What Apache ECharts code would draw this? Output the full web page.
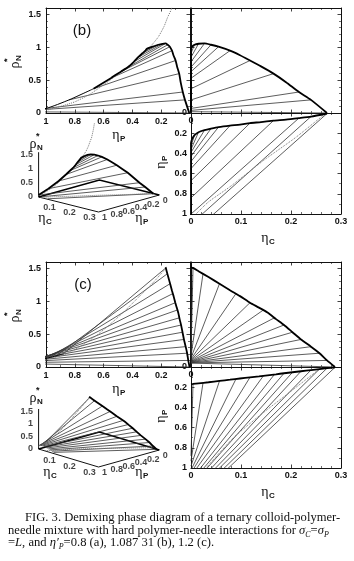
<!DOCTYPE html>
<html>
<head>
<meta charset="utf-8">
<title>FIG. 3 demixing phase diagram</title>
<script src="https://cdn.jsdelivr.net/npm/echarts@6/dist/echarts.min.js"></script>
<style>
  html, body { margin: 0; padding: 0; background: #fff; }
  #chart { width: 354px; height: 561px; }
</style>
</head>
<body>
<div id="chart"></div>
<script>
// ---------- panel (b) : eta_P^r = 1.08731 ----------
// tie lines, colloid/needle rich end (B) and polymer rich end (A)
const bTieB_c = [0.272, 0.24, 0.216, 0.165, 0.118, 0.078, 0.055, 0.04, 0.027, 0.015, 0.007, 0.002]
const bTieB_p = [0.005, 0.035, 0.05, 0.075, 0.10, 0.125, 0.14, 0.155, 0.17, 0.19, 0.22, 0.26]
const bTieB_n = [0, 0.2, 0.32, 0.6, 0.8, 0.95, 1.01, 1.04, 1.06, 1.055, 1.04, 1.01]
const bTieA_c = [0, 0, 0, 0, 0, 0, 0, 0, 0, 0, 0, 0]
const bTieA_p = [1.2, 1.1, 1.0, 0.84, 0.67, 0.55, 0.48, 0.43, 0.39, 0.36, 0.33, 0.31]
const bTieA_n = [0.02, 0.04, 0.07, 0.2, 0.37, 0.53, 0.63, 0.7, 0.78, 0.85, 0.91, 0.95]
// binodal, from the polymer rich branch over the critical point to the colloid rich end
const bBin_c = [0, 0, 0, 0, 0, 0, 0, 0, 0, 0, 0, 0, 0.002, 0.007, 0.015, 0.027, 0.04, 0.055, 0.078, 0.098, 0.118, 0.14, 0.165, 0.19, 0.216, 0.24, 0.272]
const bBin_p = [1.2, 1.0, 0.84, 0.67, 0.55, 0.48, 0.43, 0.39, 0.36, 0.33, 0.31, 0.30, 0.26, 0.22, 0.19, 0.17, 0.155, 0.14, 0.125, 0.115, 0.10, 0.09, 0.075, 0.065, 0.05, 0.035, 0.005]
const bBin_n = [0.02, 0.07, 0.2, 0.37, 0.53, 0.63, 0.7, 0.78, 0.85, 0.91, 0.95, 0.98, 1.01, 1.04, 1.055, 1.06, 1.04, 1.01, 0.95, 0.88, 0.8, 0.71, 0.6, 0.47, 0.32, 0.2, 0]
// dotted curves
const bDotPN_p = [1.0, 0.9, 0.8, 0.7, 0.6, 0.5, 0.4, 0.3, 0.26, 0.22, 0.18, 0.155, 0.13, 0.1, 0.08]
const bDotPN_n = [0.04, 0.1, 0.17, 0.28, 0.43, 0.59, 0.76, 0.96, 1.05, 1.16, 1.32, 1.46, 1.58, 1.85, 2.1]
const bDotCP_c = [0.27, 0.21, 0.145, 0.078, 0.035, 0.01]
const bDotCP_p = [0.0, 0.24, 0.47, 0.73, 0.88, 1.0]

// ---------- panel (c) : eta_P^r = 1.2 ----------
const cTieB_c = [0.288, 0.272, 0.257, 0.24, 0.22, 0.203, 0.186, 0.167, 0.145, 0.118, 0.09, 0.057, 0.024, 0.004]
const cTieB_p = [0.003, 0.012, 0.02, 0.03, 0.042, 0.052, 0.062, 0.073, 0.086, 0.102, 0.118, 0.138, 0.158, 0.168]
const cTieB_n = [0, 0.1, 0.21, 0.31, 0.42, 0.53, 0.64, 0.75, 0.87, 0.98, 1.12, 1.27, 1.42, 1.51]
const cTieA_c = [0, 0, 0, 0, 0, 0, 0, 0, 0, 0, 0, 0, 0, 0]
const cTieA_p = [1.35, 1.32, 1.28, 1.25, 1.22, 1.18, 1.15, 1.12, 1.08, 1.05, 1.02, 0.98, 0.93, 0.88]
const cTieA_n = [0.06, 0.063, 0.066, 0.07, 0.074, 0.078, 0.083, 0.09, 0.1, 0.11, 0.12, 0.14, 0.17, 0.2]
const cBin_c = [0, 0.004, 0.015, 0.035, 0.057, 0.078, 0.098, 0.118, 0.136, 0.153, 0.17, 0.186, 0.203, 0.22, 0.24, 0.257, 0.272, 0.288]
const cBin_p = [0.17, 0.168, 0.162, 0.151, 0.138, 0.126, 0.114, 0.102, 0.092, 0.082, 0.072, 0.062, 0.052, 0.042, 0.03, 0.02, 0.012, 0.003]
const cBin_n = [1.52, 1.51, 1.46, 1.37, 1.27, 1.17, 1.08, 0.98, 0.905, 0.83, 0.73, 0.64, 0.53, 0.42, 0.31, 0.21, 0.1, 0]
const cDotPN_p = [0.17, 0.25, 0.35, 0.45, 0.55, 0.65, 0.75, 0.85, 0.95, 1.0]
const cDotPN_n = [1.5, 1.3, 1.08, 0.86, 0.66, 0.48, 0.33, 0.21, 0.14, 0.12]
const cDotCP_c = [0.262, 0.2, 0.14, 0.085, 0.03]
const cDotCP_p = [0.0, 0.24, 0.47, 0.7, 1.0]

// tick labels
const ticksEtaP = [1, 0.8, 0.6, 0.4, 0.2]
const ticksRho = [0, 0.5, 1, 1.5]
const ticksEtaC = [0, 0.1, 0.2, 0.3]
const ticksEtaPdown = [0.2, 0.4, 0.6, 0.8, 1]
const ticks3dC = [0.1, 0.2, 0.3]
const ticks3dP = [1, 0.8, 0.6, 0.4, 0.2, 0]
const ticks3dN = [0, 0.5, 1, 1.5]

const FONT = 'Liberation Sans'
const INK = '#111'
const grid = [], xAxis = [], yAxis = [], series = [], graphic = []

function pts(a, b, c) { return a.map((_, i) => ({ c: a[i], p: b[i], n: c[i] })) }

function valueAxis(gi, pos, s, withLabels) {
  return {
    type: 'value', gridIndex: gi, position: pos,
    min: s.min, max: s.max, interval: s.interval, inverse: !!s.inverse,
    axisLine: { show: true, onZero: false, lineStyle: { color: INK, width: 1 } },
    axisTick: { show: true, inside: true, length: 3.5, lineStyle: { color: INK, width: 0.8 } },
    minorTick: { show: true, splitNumber: s.minor, length: 2, lineStyle: { color: INK, width: 0.6 } },
    splitLine: { show: false },
    axisLabel: {
      show: withLabels, margin: s.margin, color: INK, fontFamily: FONT, fontSize: 9, fontWeight: 'bold',
      showMinLabel: true, showMaxLabel: true,
      formatter: v => s.labels.some(t => Math.abs(t - v) < 1e-9) ? String(v) : ''
    }
  }
}

function box(g, xs, ys) {
  const gi = grid.length
  grid.push(g)
  const xi = xAxis.length, yi = yAxis.length
  xAxis.push(valueAxis(gi, 'bottom', xs, true), valueAxis(gi, 'top', xs, false))
  yAxis.push(valueAxis(gi, 'left', ys, true), valueAxis(gi, 'right', ys, false))
  return [xi, yi]
}

function tieLines(xi, yi, A, B, fx, fy) {
  return {
    type: 'lines', coordinateSystem: 'cartesian2d', xAxisIndex: xi, yAxisIndex: yi,
    clip: true, silent: true, polyline: false, z: 2,
    lineStyle: { color: '#333', width: 0.8, opacity: 1, curveness: 0 },
    data: A.map((a, i) => ({ coords: [[fx(a), fy(a)], [fx(B[i]), fy(B[i])]] }))
  }
}

function curve(xi, yi, data, width, type, color) {
  return {
    type: 'line', xAxisIndex: xi, yAxisIndex: yi, data, symbol: 'none', showSymbol: false,
    clip: true, silent: true, smooth: 0.2, z: type === 'solid' ? 4 : 3,
    lineStyle: { color: color || '#000', width, type }
  }
}

// keep the part of a 3d path that has eta_P <= 1
function clipP(path) {
  const out = []
  for (let i = 0; i < path.length; i++) {
    const q = path[i]
    if (i > 0) {
      const a = path[i - 1]
      if ((a.p > 1) !== (q.p > 1)) {
        const t = (a.p - 1) / (a.p - q.p)
        out.push({ c: a.c + t * (q.c - a.c), p: 1, n: a.n + t * (q.n - a.n) })
      }
    }
    if (q.p <= 1) out.push(q)
  }
  return out
}

function buildPanel(P) {
  const off = P.off
  const tie = { A: pts(P.tieA_c, P.tieA_p, P.tieA_n), B: pts(P.tieB_c, P.tieB_p, P.tieB_n) }
  const bin = pts(P.bin_c, P.bin_p, P.bin_n)

  // rho_N versus eta_P
  const [xTL, yTL] = box({ left: 46, top: 8 + off, width: 144, height: 105 },
    { min: 0, max: 1, interval: 0.2, minor: 2, inverse: true, labels: ticksEtaP, margin: 4 },
    { min: 0, max: 1.6, interval: 0.5, minor: 5, labels: ticksRho, margin: 5 })
  series.push(tieLines(xTL, yTL, tie.A, tie.B, q => q.p, q => q.n))
  series.push(curve(xTL, yTL, P.dotPN_p.map((p, i) => [p, P.dotPN_n[i]]), 1, 'dotted', '#777'))
  const thickFrom = P.thickFrom
  series.push(curve(xTL, yTL, bin.slice(thickFrom).map(q => [q.p, q.n]), 1.8, 'solid'))
  series.push(curve(xTL, yTL, (P.branchA ? P.branchA : bin.slice(0, thickFrom + 1)).map(q => [q.p, q.n]), 1, 'solid'))

  // rho_N versus eta_C
  const [xTR, yTR] = box({ left: 191, top: 8 + off, width: 150, height: 105 },
    { min: 0, max: 0.3, interval: 0.1, minor: 5, labels: [0], margin: 3 },
    { min: 0, max: 1.6, interval: 0.5, minor: 5, labels: [0], margin: 4 })
  series.push(tieLines(xTR, yTR, tie.A, tie.B, q => q.c, q => q.n))
  series.push(curve(xTR, yTR, bin.map(q => [q.c, q.n]), 1.8, 'solid'))

  // eta_P versus eta_C
  const [xBR, yBR] = box({ left: 191, top: 113 + off, width: 150, height: 101 },
    { min: 0, max: 0.3, interval: 0.1, minor: 5, labels: ticksEtaC, margin: 3 },
    { min: 0, max: 1, interval: 0.2, minor: 2, inverse: true, labels: ticksEtaPdown, margin: 4 })
  series.push(tieLines(xBR, yBR, tie.A, tie.B, q => q.c, q => q.p))
  series.push(curve(xBR, yBR, P.dotCP_c.map((c, i) => [c, P.dotCP_p[i]]), 1, 'dotted', '#777'))
  series.push(curve(xBR, yBR, bin.map(q => [q.c, q.p]), 1.8, 'solid'))

  // perspective view
  const V = P.view
  const proj = q => [V.cx * q.c + V.qx * (1 - q.p), -V.cy * q.c + V.qy * (1 - q.p) + V.ny * q.n]
  const g3 = grid.length
  grid.push({ left: V.ox - 40, top: V.oy - 110, width: 200, height: 140 })
  const x3 = xAxis.length, y3 = yAxis.length
  xAxis.push({ type: 'value', gridIndex: g3, min: -40, max: 160, show: false })
  yAxis.push({ type: 'value', gridIndex: g3, min: -30, max: 110, show: false })
  const seg = (list, w, color, type) => ({
    type: 'lines', coordinateSystem: 'cartesian2d', xAxisIndex: x3, yAxisIndex: y3,
    silent: true, polyline: true, z: 2,
    lineStyle: { color: color || '#333', width: w, opacity: 1, type: type || 'solid' },
    data: list.map(path => ({ coords: path.map(proj) }))
  })
  const frame = [
    [{ c: 0, p: 1, n: 0 }, { c: 0.3, p: 1, n: 0 }, { c: 0.3, p: 0, n: 0 }],
    [{ c: 0, p: 1, n: 0 }, { c: 0, p: 1, n: 1.6 }]
  ]
  const back = [[{ c: 0, p: 1, n: 0 }, { c: 0, p: 0, n: 0 }, { c: 0.3, p: 0, n: 0 }]]
  series.push(seg(frame, 1, INK))
  series.push(seg(back, 1.6, '#000'))
  series.push(seg(tie.A.map((a, i) => clipP([a, tie.B[i]])), 0.8, '#333'))
  series.push(seg([P.dotPN_p.map((p, i) => ({ c: 0, p, n: P.dotPN_n[i] }))], 1, '#777', 'dotted'))
  series.push(seg([P.dotCP_c.map((c, i) => ({ c, p: P.dotCP_p[i], n: 0 }))], 1, '#777', 'dotted'))
  series.push(seg([clipP(bin)], 1.8, '#000'))
  const tickLabels = (list, pos, offset, distance) => ({
    type: 'scatter', xAxisIndex: x3, yAxisIndex: y3, symbolSize: 1, silent: true,
    itemStyle: { color: 'rgba(0,0,0,0)' },
    label: {
      show: true, position: pos, offset, distance, color: INK, fontFamily: FONT, fontSize: 9, fontWeight: 'bold',
      formatter: p => String(p.value[2])
    },
    data: list
  })
  series.push(tickLabels(ticks3dC.map(c => [...proj({ c, p: 1, n: 0 }), c]), 'inside', [-9, 6]))
  series.push(tickLabels(ticks3dP.map(p => [...proj({ c: 0.3, p, n: 0 }), p]), 'inside', [6, 6]))
  series.push(tickLabels(ticks3dN.map(n => [...proj({ c: 0, p: 1, n }), n]), 'left', [0, 0], 5))

  // titles
  graphic.push(txt(P.tagX, 31 + off, P.tag, '15px "Liberation Sans"'))
  graphic.push(sym(15, 65 + off, 'ρ', 'N', '*', Math.PI / 2))
  graphic.push(sym(116, 135 + off, 'η', 'P'))
  graphic.push(sym(265, 238 + off, 'η', 'C'))
  graphic.push(sym(161, 165 + off, 'η', 'P', null, Math.PI / 2))
  graphic.push(sym(33, 144 + off, 'ρ', 'N', '*'))
  graphic.push(sym(V.cLabX, 218 + off, 'η', 'C'))
  graphic.push(sym(139, 218 + off, 'η', 'P'))
}

function txt(x, y, text, font) {
  return { type: 'text', x, y, style: { text, font, fill: INK, align: 'center', verticalAlign: 'middle', textAlign: 'center', textVerticalAlign: 'middle' } }
}

function sym(x, y, main, sub, sup, rot) {
  const ch = [{ type: 'text', x: 0, y: 0, style: { text: main, font: '14px "Liberation Serif"', fill: INK, align: 'center', verticalAlign: 'middle', textAlign: 'center', textVerticalAlign: 'middle' } }]
  if (sub) ch.push({ type: 'text', x: 4, y: 4, style: { text: sub, font: 'bold 8px "Liberation Sans"', fill: INK, align: 'left', verticalAlign: 'middle', textAlign: 'left', textVerticalAlign: 'middle' } })
  if (sup) ch.push({ type: 'text', x: 3, y: -7, style: { text: sup, font: 'bold 9px "Liberation Sans"', fill: INK, align: 'left', verticalAlign: 'middle', textAlign: 'left', textVerticalAlign: 'middle' } })
  return { type: 'group', x, y, rotation: rot || 0, children: ch }
}

buildPanel({
  off: 0, tag: '(b)', tagX: 82,
  tieA_c: bTieA_c, tieA_p: bTieA_p, tieA_n: bTieA_n,
  tieB_c: bTieB_c, tieB_p: bTieB_p, tieB_n: bTieB_n,
  bin_c: bBin_c, bin_p: bBin_p, bin_n: bBin_n, thickFrom: 3,
  dotPN_p: bDotPN_p, dotPN_n: bDotPN_n, dotCP_c: bDotCP_c, dotCP_p: bDotCP_p,
  view: { ox: 33, oy: 197, cx: 207, cy: 50, qx: 63, qy: 17, ny: 28, cLabX: 42 }
})
buildPanel({
  off: 254, tag: '(c)', tagX: 83,
  tieA_c: cTieA_c, tieA_p: cTieA_p, tieA_n: cTieA_n,
  tieB_c: cTieB_c, tieB_p: cTieB_p, tieB_n: cTieB_n,
  bin_c: cBin_c, bin_p: cBin_p, bin_n: cBin_n, thickFrom: 0,
  branchA: pts(cTieA_c, cTieA_p, cTieA_n),
  dotPN_p: cDotPN_p, dotPN_n: cDotPN_n, dotCP_c: cDotCP_c, dotCP_p: cDotCP_p,
  view: { ox: 33, oy: 449, cx: 207, cy: 60, qx: 63, qy: 17, ny: 25, cLabX: 47 }
})

// caption
const CAP = 12.6
const capRich = {
  i: { fontFamily: 'Liberation Serif', fontSize: CAP, fontStyle: 'italic', lineHeight: 15 },
  s: { fontFamily: 'Liberation Serif', fontSize: 8, fontStyle: 'italic', verticalAlign: 'bottom', lineHeight: 15 }
}
const capLines = [
  [25, 518, 'FIG. 3. Demixing phase diagram of a ternary colloid-polymer-'],
  [8, 531, 'needle mixture with hard polymer-needle interactions for {i|σ}{s|C}={i|σ}{s|P}'],
  [8, 543, '={i|L}, and {i|η′}{s|P}=0.8 (a), 1.087 31 (b), 1.2 (c).']
]
capLines.forEach(([x, y, text]) => graphic.push({
  type: 'text', x, y,
  style: { text, fontFamily: 'Liberation Serif', fontSize: CAP, fill: INK, verticalAlign: 'middle', textVerticalAlign: 'middle', rich: capRich }
}))

const chart = echarts.init(document.getElementById('chart'), null, { renderer: 'canvas' })
chart.setOption({
  animation: false,
  backgroundColor: '#fff',
  grid, xAxis, yAxis, series, graphic
})
</script>
</body>
</html>
